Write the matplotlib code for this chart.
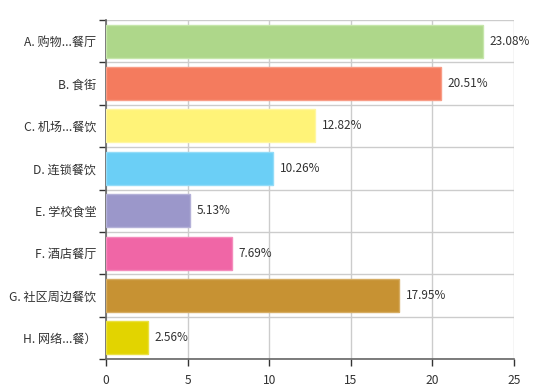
import matplotlib
matplotlib.use("Agg")
import matplotlib.pyplot as plt
import numpy as np

plt.rcParams['font.family'] = ['Noto Sans CJK SC', 'DejaVu Sans']

# datos
categorias = ["A. 购物...餐厅", "B. 食街", "C. 机场...餐饮", "D. 连锁餐饮",
              "E. 学校食堂", "F. 酒店餐厅", "G. 社区周边餐饮", "H. 网络...餐）"]
porcentajes = [23.08, 20.51, 12.82, 10.26, 5.13, 7.69, 17.95, 2.56]
colores = ["#AED78A", "#F47B5E", "#FFF378", "#6BCFF6",
           "#9B97CA", "#F066A6", "#C79233", "#E2D400"]
bordes = ["#C6E6AA", "#F89C86", "#FFF7A0", "#93DCF8",
          "#B4B1D8", "#F48BBC", "#D6AC62", "#EAE040"]
x_ticks = [0, 5, 10, 15, 20, 25]

fig = plt.figure(figsize=(5.47, 3.89), dpi=100)
ax = fig.add_axes([106 / 547, 1 - 359 / 389, 408 / 547, 339 / 389])

n = len(categorias)
y = np.arange(n)
ax.barh(y, porcentajes, height=0.78, color=colores, edgecolor=bordes, linewidth=1, zorder=3)

for yi, v in zip(y, porcentajes):
    ax.text(v + 0.4, yi, f"{v:.2f}%", va='center', ha='left', fontsize=8.5, color='#333333', zorder=4)

ax.set_xlim(0, 25)
ax.set_ylim(n - 0.5, -0.5)
ax.set_xticks(x_ticks)
ax.set_yticks(y)
ax.set_yticklabels(categorias)
ax.set_yticks(np.arange(n + 1) - 0.5, minor=True)

ax.tick_params(axis='y', which='major', length=0, pad=7, labelsize=8.7, labelcolor='#333333')
ax.tick_params(axis='y', which='minor', length=5, width=1, color='#333333')
ax.tick_params(axis='x', which='major', length=5, width=1, color='#333333', labelsize=8.7, labelcolor='#333333', pad=6)

ax.grid(True, axis='x', which='major', color='#CCCCCC', linewidth=1, zorder=0)
ax.grid(True, axis='y', which='minor', color='#CCCCCC', linewidth=1, zorder=0)
ax.grid(False, axis='y', which='major')

for lado in ['top', 'right']:
    ax.spines[lado].set_visible(False)
ax.spines['left'].set_color('#666666')
ax.spines['bottom'].set_color('#666666')
ax.spines['left'].set_linewidth(1.2)
ax.spines['bottom'].set_linewidth(1.2)

fig.savefig("out.png", dpi=100)
